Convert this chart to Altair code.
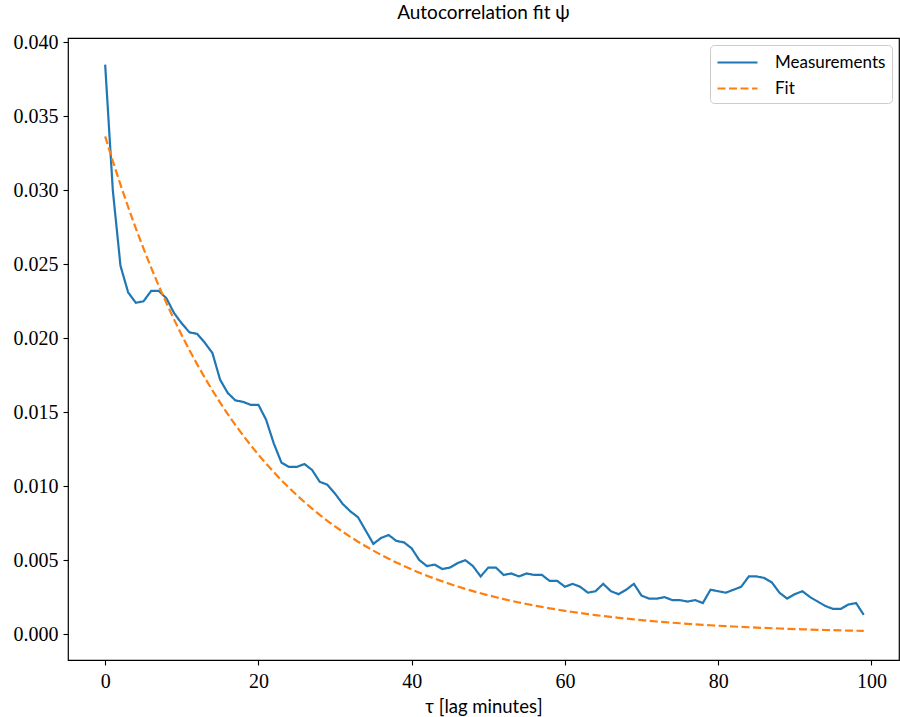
import altair as alt
import pandas as pd

# Lag in minutes
lags = list(range(100))

# Measured autocorrelation per lag
measurements = [
    0.0385, 0.0300, 0.0249, 0.0231, 0.0224, 0.0225, 0.0232, 0.0232, 0.0227, 0.0217,
    0.0210, 0.0204, 0.0203, 0.0197, 0.0190, 0.0172, 0.0163, 0.0158, 0.0157, 0.0155,
    0.0155, 0.0145, 0.0129, 0.0116, 0.0113, 0.0113, 0.0115, 0.0111, 0.0103, 0.0101,
    0.0095, 0.0088, 0.0083, 0.0079, 0.0070, 0.0061, 0.0065, 0.0067, 0.0063, 0.0062,
    0.0058, 0.0050, 0.0046, 0.0047, 0.0044, 0.0045, 0.0048, 0.0050, 0.0046, 0.0039,
    0.0045, 0.0045, 0.0040, 0.0041, 0.0039, 0.0041, 0.0040, 0.0040, 0.0036, 0.0036,
    0.0032, 0.0034, 0.0032, 0.0028, 0.0029, 0.0034, 0.0029, 0.0027, 0.0030, 0.0034,
    0.0026, 0.0024, 0.0024, 0.0025, 0.0023, 0.0023, 0.0022, 0.0023, 0.0021, 0.0030,
    0.0029, 0.0028, 0.0030, 0.0032, 0.0039, 0.0039, 0.0038, 0.0035, 0.0028, 0.0024,
    0.0027, 0.0029, 0.0025, 0.0022, 0.0019, 0.0017, 0.0017, 0.0020, 0.0021, 0.0013,
]

# Fitted exponential decay per lag
fit = [
    0.033650, 0.031976, 0.030386, 0.028874, 0.027438, 0.026073, 0.024776, 0.023544, 0.022373, 0.021260,
    0.020202, 0.019197, 0.018242, 0.017335, 0.016473, 0.015654, 0.014875, 0.014135, 0.013432, 0.012764,
    0.012129, 0.011525, 0.010952, 0.010407, 0.009890, 0.009398, 0.008930, 0.008486, 0.008064, 0.007663,
    0.007282, 0.006919, 0.006575, 0.006248, 0.005938, 0.005642, 0.005362, 0.005095, 0.004841, 0.004601,
    0.004372, 0.004154, 0.003948, 0.003751, 0.003565, 0.003387, 0.003219, 0.003059, 0.002907, 0.002762,
    0.002625, 0.002494, 0.002370, 0.002252, 0.002140, 0.002034, 0.001933, 0.001836, 0.001745, 0.001658,
    0.001576, 0.001497, 0.001423, 0.001352, 0.001285, 0.001221, 0.001160, 0.001103, 0.001048, 0.000996,
    0.000946, 0.000899, 0.000854, 0.000812, 0.000771, 0.000733, 0.000697, 0.000662, 0.000629, 0.000598,
    0.000568, 0.000540, 0.000513, 0.000487, 0.000463, 0.000440, 0.000418, 0.000398, 0.000378, 0.000359,
    0.000341, 0.000324, 0.000308, 0.000293, 0.000278, 0.000264, 0.000251, 0.000239, 0.000227, 0.000216,
]

series_names = ["Measurements", "Fit"]
series_colors = ["#1f77b4", "#ff7f0e"]
series_dashes = [[1, 0], [8, 3.5]]

x_ticks = [0, 20, 40, 60, 80, 100]
y_ticks = [0.000, 0.005, 0.010, 0.015, 0.020, 0.025, 0.030, 0.035, 0.040]

df = pd.concat([
    pd.DataFrame({"lag": lags, "value": measurements, "series": series_names[0]}),
    pd.DataFrame({"lag": lags, "value": fit, "series": series_names[1]}),
])

serif = "Liberation Serif, serif"
sans = "Lato, sans-serif"

# Legend line symbol: drawn 40px long while the legend lays it out as 20px
legend_line = "M-1,0H3"

chart = alt.Chart(df).mark_line(strokeWidth=2.2).encode(
    x=alt.X(
        "lag:Q",
        scale=alt.Scale(domain=[-4.85, 103.6], nice=False, zero=False),
        axis=alt.Axis(
            values=x_ticks, format="d", title="τ [lag minutes]",
            labelFont=serif, labelFontSize=20, labelPadding=6, titlePadding=6,
        ),
    ),
    y=alt.Y(
        "value:Q",
        scale=alt.Scale(domain=[-0.00175, 0.0403], nice=False, zero=False),
        axis=alt.Axis(
            values=y_ticks, format=".3f", title=None,
            labelFont=serif, labelFontSize=20, labelPadding=5,
        ),
    ),
    color=alt.Color(
        "series:N",
        scale=alt.Scale(domain=series_names, range=series_colors),
        sort=series_names,
        legend=alt.Legend(title=None),
    ),
    strokeDash=alt.StrokeDash(
        "series:N",
        scale=alt.Scale(domain=series_names, range=series_dashes),
        sort=series_names,
        legend=alt.Legend(title=None),
    ),
).properties(
    width=831,
    height=622,
    autosize="none",
    padding={"left": 68, "top": 38, "right": 1, "bottom": 57},
    title=alt.Title("Autocorrelation fit ψ", font=sans, fontSize=19, fontWeight="normal", offset=9),
).configure_view(
    stroke="black",
    strokeWidth=1.2,
).configure_axis(
    grid=False,
    domain=False,
    tickColor="black",
    tickSize=5,
    tickWidth=1.1,
    labelColor="black",
    titleFont=sans,
    titleFontSize=18.5,
    titleFontWeight="normal",
    titleColor="black",
).configure_legend(
    orient="top-right",
    offset=7,
    padding=6,
    strokeColor="#cccccc",
    cornerRadius=4,
    fillColor="white",
    labelFont=sans,
    labelFontSize=17,
    labelColor="black",
    symbolType=legend_line,
    symbolSize=400,
    symbolStrokeWidth=2.2,
    symbolFillColor="transparent",
    rowPadding=6,
    labelOffset=36,
)

chart.save("out.html", embed_options={"renderer": "svg", "actions": False})
